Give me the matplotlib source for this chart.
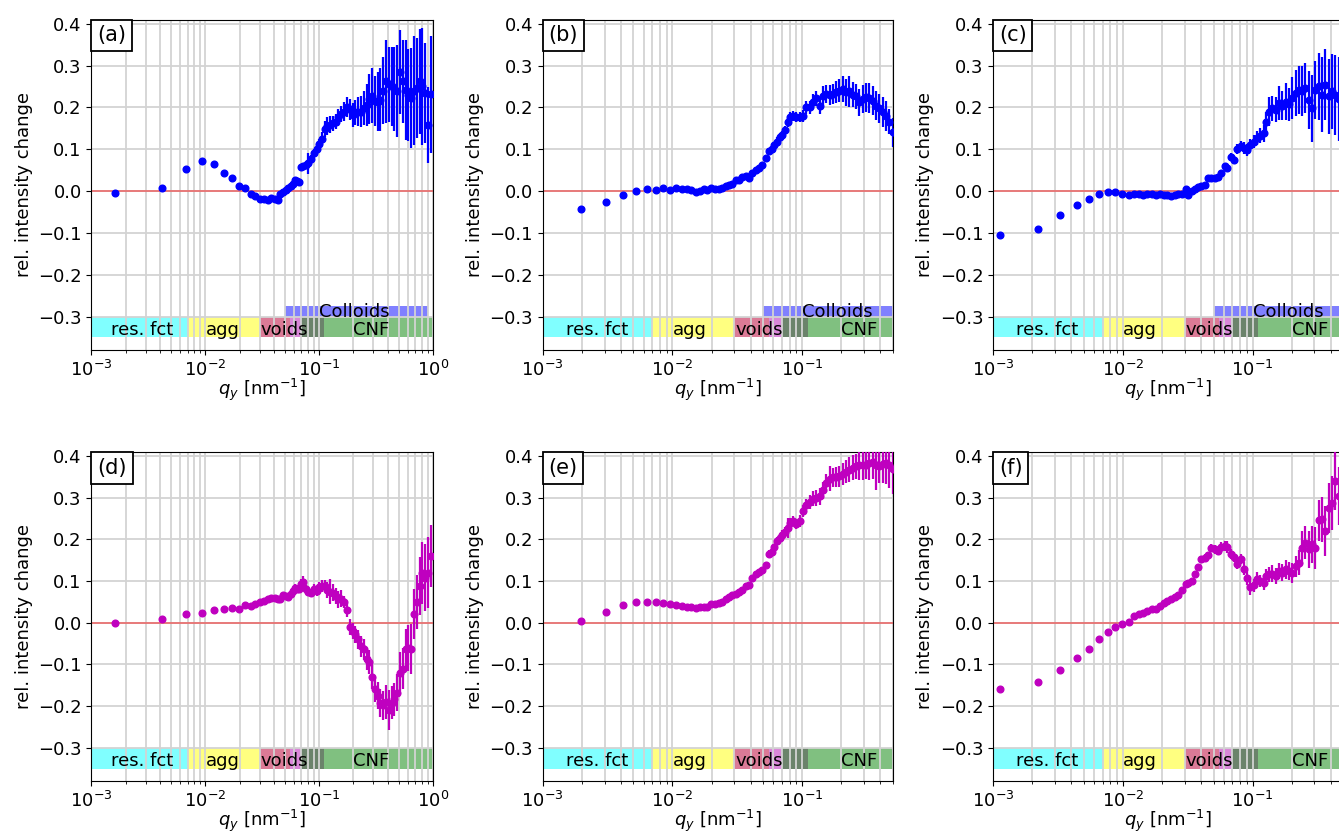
import numpy as np
import matplotlib.pyplot as plt
from matplotlib.offsetbox import AnchoredText

# 字体设置
plt.rcParams['font.family'] = ['DejaVu Sans']
plt.rcParams['font.size'] = 13
plt.rcParams['mathtext.fontset'] = 'dejavusans'

# ---- q grids (nm^-1), one per column ----
q_col1 = [0.0016, 0.0042, 0.0068, 0.0094, 0.0120, 0.0146, 0.0172, 0.0198, 0.0224, 0.0250,
          0.0276, 0.0302, 0.0328, 0.0354, 0.0380, 0.0406, 0.0432, 0.0458, 0.0484, 0.0510,
          0.0536, 0.0562, 0.0588, 0.0614, 0.0640, 0.0666, 0.0692, 0.0720, 0.0760, 0.0800,
          0.0850, 0.0900, 0.0950, 0.100, 0.106, 0.112, 0.118, 0.125, 0.132, 0.140,
          0.148, 0.157, 0.166, 0.176, 0.186, 0.197, 0.208, 0.220, 0.233, 0.247,
          0.261, 0.276, 0.292, 0.309, 0.327, 0.346, 0.366, 0.387, 0.410, 0.434,
          0.459, 0.486, 0.514, 0.544, 0.576, 0.609, 0.645, 0.682, 0.722, 0.764,
          0.808, 0.855, 0.905, 0.958]

q_col2 = [0.00197, 0.00307, 0.00417, 0.00522, 0.00631, 0.00740, 0.00847, 0.00965, 0.01073, 0.01193,
          0.01296, 0.01399, 0.01511, 0.01622, 0.01741, 0.01858, 0.01994, 0.02141, 0.02284, 0.02423,
          0.02570, 0.02727, 0.02893, 0.03069, 0.03256, 0.03453, 0.03663, 0.03886, 0.04122, 0.04373,
          0.04638, 0.04921, 0.05219, 0.05537, 0.05804, 0.06085, 0.06380, 0.06689, 0.07013, 0.07352,
          0.07708, 0.08081, 0.08472, 0.08986, 0.09533, 0.1011, 0.1073, 0.1138, 0.1207, 0.1280,
          0.1359, 0.1441, 0.1529, 0.1622, 0.1720, 0.1825, 0.1936, 0.2054, 0.2179, 0.2311,
          0.2452, 0.2601, 0.2760, 0.2928, 0.3106, 0.3294, 0.3494, 0.3707, 0.3932, 0.4172,
          0.4425, 0.4694, 0.4980]

q_col3 = [0.00113, 0.00222, 0.00330, 0.00443, 0.00547, 0.00661, 0.00765, 0.00877, 0.00987, 0.0111,
          0.01225, 0.01338, 0.01436, 0.01549, 0.01673, 0.01795, 0.01927, 0.02067, 0.02206, 0.02366,
          0.02524, 0.02677, 0.02838, 0.03046, 0.03196, 0.03388, 0.03594, 0.03810, 0.04041, 0.04285,
          0.04544, 0.04818, 0.05110, 0.05418, 0.05745, 0.06092, 0.06387, 0.06773, 0.07182, 0.07616,
          0.08076, 0.08564, 0.09081, 0.09630, 0.1021, 0.1083, 0.1148, 0.1218, 0.1278, 0.1340,
          0.1421, 0.1507, 0.1598, 0.1695, 0.1797, 0.1906, 0.2021, 0.2143, 0.2273, 0.2410,
          0.2556, 0.2710, 0.2874, 0.3048, 0.3232, 0.3427, 0.3634, 0.3854, 0.4087, 0.4334,
          0.4596, 0.4870]

# ---- relative intensity change and errors ----
y_a = [-0.004, 0.008, 0.052, 0.073, 0.064, 0.042, 0.030, 0.013, 0.008, -0.008,
       -0.012, -0.019, -0.019, -0.022, -0.016, -0.018, -0.021, -0.008, -0.003, 0.002,
       0.008, 0.012, 0.018, 0.026, 0.024, 0.022, 0.057, 0.060, 0.063, 0.066,
       0.076, 0.090, 0.100, 0.112, 0.125, 0.148, 0.156, 0.159, 0.162, 0.166,
       0.176, 0.184, 0.190, 0.200, 0.195, 0.182, 0.188, 0.190, 0.190, 0.198,
       0.206, 0.220, 0.228, 0.216, 0.214, 0.218, 0.240, 0.262, 0.255, 0.250,
       0.244, 0.238, 0.285, 0.262, 0.242, 0.230, 0.222, 0.240, 0.246, 0.262,
       0.250, 0.234, 0.158, 0.231]
e_a = [0.002] * 20 + [0.004] * 7 + \
      [0.008, 0.010, 0.025, 0.010, 0.010, 0.012, 0.012, 0.015, 0.020, 0.022,
       0.020, 0.018, 0.018, 0.020, 0.020, 0.022, 0.024, 0.026, 0.028, 0.030,
       0.034, 0.036, 0.040, 0.050, 0.060, 0.066, 0.060, 0.070, 0.075, 0.080,
       0.100, 0.090, 0.095, 0.100, 0.110, 0.100, 0.100, 0.120, 0.110, 0.120,
       0.130, 0.120, 0.125, 0.140, 0.120, 0.090, 0.140]

y_b = [-0.042, -0.026, -0.010, -0.001, 0.006, 0.003, 0.007, 0.002, 0.007, 0.006,
       0.004, 0.002, -0.002, 0.000, 0.004, 0.002, 0.008, 0.006, 0.004, 0.008,
       0.011, 0.014, 0.018, 0.026, 0.026, 0.034, 0.036, 0.032, 0.044, 0.050,
       0.056, 0.062, 0.078, 0.096, 0.100, 0.110, 0.118, 0.128, 0.134, 0.146,
       0.164, 0.176, 0.180, 0.176, 0.176, 0.180, 0.200, 0.200, 0.214, 0.222,
       0.204, 0.228, 0.232, 0.230, 0.232, 0.236, 0.240, 0.244, 0.236, 0.238,
       0.230, 0.226, 0.212, 0.220, 0.224, 0.222, 0.216, 0.204, 0.198, 0.188,
       0.180, 0.166, 0.140]
e_b = [0.002] * 23 + [0.004] * 9 + \
      [0.006, 0.008, 0.008, 0.008, 0.010, 0.010, 0.010, 0.010, 0.010, 0.012,
       0.012, 0.012, 0.012, 0.014, 0.016, 0.016, 0.018, 0.018, 0.020, 0.022,
       0.022, 0.024, 0.024, 0.026, 0.028, 0.030, 0.032, 0.036, 0.030, 0.030,
       0.032, 0.034, 0.034, 0.036, 0.035, 0.035, 0.035, 0.036, 0.036, 0.030,
       0.035]

y_c = [-0.105, -0.090, -0.058, -0.033, -0.018, -0.007, -0.003, -0.003, -0.008, -0.009,
       -0.006, -0.006, -0.009, -0.007, -0.007, -0.010, -0.007, -0.009, -0.009, -0.013,
       -0.009, -0.007, -0.007, 0.004, -0.010, -0.001, 0.006, 0.010, 0.012, 0.014,
       0.030, 0.032, 0.032, 0.034, 0.042, 0.060, 0.055, 0.082, 0.074, 0.100,
       0.108, 0.103, 0.098, 0.110, 0.118, 0.127, 0.132, 0.138, 0.166, 0.190,
       0.198, 0.194, 0.210, 0.204, 0.214, 0.207, 0.222, 0.234, 0.242, 0.239,
       0.246, 0.218, 0.198, 0.242, 0.250, 0.230, 0.254, 0.226, 0.238, 0.230,
       0.220, 0.240]
e_c = [0.002] * 23 + [0.006, 0.006] + [0.004] * 7 + \
      [0.005, 0.006, 0.006, 0.008, 0.008, 0.010, 0.010, 0.012, 0.012, 0.015,
       0.015, 0.015, 0.015, 0.016, 0.018, 0.020, 0.022, 0.034, 0.030, 0.030,
       0.040, 0.035, 0.045, 0.040, 0.050, 0.055, 0.058, 0.060, 0.060, 0.070,
       0.080, 0.070, 0.080, 0.090, 0.085, 0.090, 0.090, 0.095, 0.100, 0.100]

y_d = [0.000, 0.010, 0.020, 0.024, 0.030, 0.033, 0.035, 0.034, 0.042, 0.040,
       0.046, 0.050, 0.052, 0.056, 0.059, 0.060, 0.056, 0.058, 0.066, 0.064,
       0.061, 0.068, 0.076, 0.084, 0.080, 0.082, 0.092, 0.097, 0.080, 0.075,
       0.072, 0.080, 0.076, 0.086, 0.088, 0.088, 0.079, 0.074, 0.072, 0.064,
       0.056, 0.058, 0.050, 0.030, -0.010, -0.020, -0.028, -0.040, -0.056, -0.064,
       -0.088, -0.094, -0.130, -0.160, -0.175, -0.192, -0.198, -0.190, -0.210, -0.192,
       -0.184, -0.168, -0.120, -0.110, -0.064, -0.060, -0.064, 0.020, 0.050, 0.088,
       0.120, 0.108, 0.120, 0.160]
e_d = [0.003] * 22 + \
      [0.006, 0.008, 0.008, 0.008, 0.012, 0.016, 0.010, 0.010, 0.010, 0.012,
       0.012, 0.012, 0.015, 0.015, 0.020, 0.030, 0.020, 0.020, 0.020, 0.020,
       0.015, 0.015, 0.020, 0.020, 0.020, 0.022, 0.025, 0.025, 0.025, 0.028,
       0.030, 0.030, 0.032, 0.034, 0.035, 0.040, 0.048, 0.040, 0.040, 0.045,
       0.050, 0.050, 0.050, 0.055, 0.060, 0.060, 0.065, 0.070, 0.075, 0.080,
       0.085, 0.075]

y_e = [0.005, 0.026, 0.043, 0.049, 0.051, 0.049, 0.047, 0.044, 0.042, 0.040,
       0.039, 0.039, 0.036, 0.039, 0.039, 0.038, 0.046, 0.045, 0.048, 0.051,
       0.058, 0.061, 0.066, 0.070, 0.074, 0.078, 0.088, 0.091, 0.107, 0.118,
       0.123, 0.126, 0.138, 0.166, 0.171, 0.182, 0.196, 0.203, 0.210, 0.218,
       0.228, 0.240, 0.244, 0.238, 0.245, 0.268, 0.282, 0.290, 0.298, 0.300,
       0.304, 0.318, 0.336, 0.346, 0.349, 0.350, 0.352, 0.358, 0.363, 0.367,
       0.372, 0.376, 0.379, 0.378, 0.380, 0.384, 0.386, 0.380, 0.376, 0.381,
       0.384, 0.378, 0.370]
e_e = [0.002] * 25 + [0.004] * 7 + \
      [0.006, 0.008, 0.008, 0.008, 0.010, 0.010, 0.012, 0.012, 0.024, 0.012,
       0.012, 0.012, 0.014, 0.014, 0.016, 0.016, 0.018, 0.020, 0.020, 0.020,
       0.022, 0.030, 0.022, 0.024, 0.025, 0.026, 0.028, 0.030, 0.030, 0.030,
       0.035, 0.035, 0.035, 0.040, 0.040, 0.060, 0.040, 0.045, 0.050, 0.055,
       0.060]

y_f = [-0.158, -0.142, -0.114, -0.084, -0.062, -0.038, -0.021, -0.010, -0.002, 0.002,
       0.016, 0.020, 0.024, 0.028, 0.032, 0.034, 0.040, 0.047, 0.052, 0.057,
       0.061, 0.066, 0.078, 0.093, 0.096, 0.100, 0.118, 0.134, 0.152, 0.156,
       0.162, 0.180, 0.176, 0.172, 0.182, 0.184, 0.182, 0.166, 0.158, 0.142,
       0.154, 0.130, 0.108, 0.086, 0.090, 0.106, 0.100, 0.096, 0.112, 0.116,
       0.118, 0.112, 0.124, 0.120, 0.128, 0.124, 0.120, 0.136, 0.144, 0.180,
       0.192, 0.176, 0.188, 0.180, 0.246, 0.248, 0.220, 0.276, 0.288, 0.340,
       0.304, 0.330]
e_f = [0.003] * 23 + \
      [0.005, 0.006, 0.006, 0.006, 0.006, 0.008, 0.008, 0.008, 0.010, 0.010,
       0.010, 0.012, 0.012, 0.015, 0.012, 0.012, 0.012, 0.012, 0.015, 0.018,
       0.020, 0.015, 0.015, 0.015, 0.018, 0.018, 0.018, 0.020, 0.020, 0.020,
       0.020, 0.022, 0.022, 0.024, 0.025, 0.030, 0.040, 0.040, 0.045, 0.045,
       0.050, 0.050, 0.055, 0.060, 0.060, 0.065, 0.070, 0.070, 0.075]

# ---- size-range bands drawn under the data ----
band_edges = [0.001, 0.007, 0.03, 0.055, 0.07, 0.11, 1.0]
band_colors = ['#80ffff', '#ffff80', '#db7a96', '#d987d9', '#6b836b', '#80c080']
band_names = ['res. fct', 'agg', 'voids', 'CNF']
band_name_q = [0.0015, 0.0101, 0.0305, 0.2]
colloid_range = [0.05, 0.9]

panels = [
    ('(a)', q_col1, y_a, e_a, 'blue', 1.0, True),
    ('(b)', q_col2, y_b, e_b, 'blue', 0.5, True),
    ('(c)', q_col3, y_c, e_c, 'blue', 0.5, True),
    ('(d)', q_col1, y_d, e_d, 'm', 1.0, False),
    ('(e)', q_col2, y_e, e_e, 'm', 0.5, False),
    ('(f)', q_col3, y_f, e_f, 'm', 0.5, False),
]

# axes positions in figure fractions [left, bottom, width, height]
col_left = [0.0683, 0.4053, 0.7416]
col_width = [0.2550, 0.2616, 0.2616]
row_bottom = [0.5803, 0.0635]
row_height = [0.3963, 0.3945]


def draw_bands(ax, colloids):
    lo = np.array(band_edges[:-1])
    hi = np.array(band_edges[1:])
    ax.barh(-0.325, hi - lo, left=lo, height=0.05, color=band_colors, lw=0, zorder=1)
    for name, qx in zip(band_names, band_name_q):
        ax.text(qx, -0.343, name, ha='left', va='baseline', fontsize=13, zorder=4)
    if colloids:
        ax.barh(-0.2875, colloid_range[1] - colloid_range[0], left=colloid_range[0],
                height=0.025, color='#8080ff', lw=0, zorder=1)
        ax.text(0.1, -0.301, 'Colloids', ha='left', va='baseline', fontsize=13, zorder=4)


def plot_panel(ax, tag, q, y, err, color, qmax, colloids):
    assert len(q) == len(y) == len(err), tag
    ax.set_xscale('log')
    ax.set_xlim(1e-3, qmax)
    ax.set_ylim(-0.38, 0.41)
    ax.set_yticks([-0.3, -0.2, -0.1, 0.0, 0.1, 0.2, 0.3, 0.4])

    draw_bands(ax, colloids)
    ax.axhline(0, color='red', lw=1.2, alpha=0.5, zorder=2)
    ax.errorbar(q, y, yerr=err, fmt='o', color=color, ms=4.8, elinewidth=1.6,
                capsize=0, zorder=3)

    ax.grid(True, which='both', axis='x', color='#d3d3d3', lw=1.3)
    ax.grid(True, which='major', axis='y', color='#d3d3d3', lw=1.3)
    ax.set_xlabel(r'$q_y$ [nm$^{-1}$]', labelpad=-2)
    ax.set_ylabel('rel. intensity change')

    at = AnchoredText(tag, loc='upper left', prop=dict(size=15), frameon=True,
                      pad=0.28, borderpad=0.0)
    at.patch.set_boxstyle('square,pad=0')
    at.patch.set_edgecolor('black')
    at.patch.set_linewidth(1.3)
    at.zorder = 5
    ax.add_artist(at)


fig = plt.figure(figsize=(13.39, 8.34), dpi=100)
for i, (tag, q, y, err, color, qmax, colloids) in enumerate(panels):
    r, c = divmod(i, 3)
    ax = fig.add_axes([col_left[c], row_bottom[r], col_width[c], row_height[r]])
    plot_panel(ax, tag, q, y, err, color, qmax, colloids)

plt.savefig('out.png', dpi=100)
